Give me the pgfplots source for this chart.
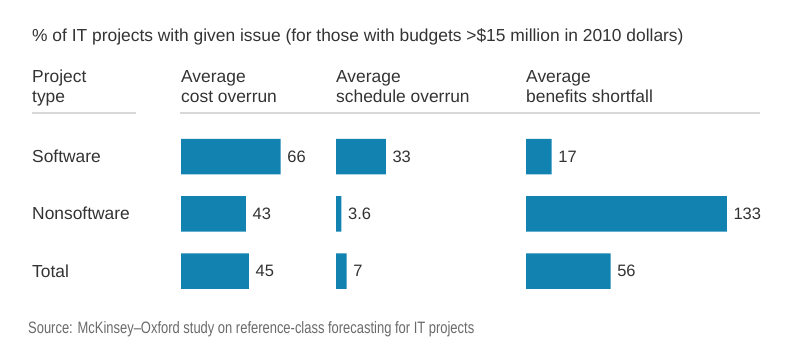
\documentclass[border=0pt]{standalone}
\usepackage{pgfplots}
\pgfplotsset{compat=1.18}
\usepackage{fontspec}
\setmainfont{Liberation Sans}
\newfontfamily\narrowfont{Liberation Sans}[FakeStretch=0.785]
\definecolor{barblue}{HTML}{1283B0}
\definecolor{txt}{HTML}{333333}
\definecolor{src}{HTML}{6A6A6A}
\definecolor{rulec}{HTML}{D8D8D8}
\newcommand{\fs}{\fontsize{17.4}{20}\selectfont}
\newcommand{\fn}{\fontsize{16.5}{20}\selectfont}
\begin{document}
\begin{tikzpicture}[x=1pt,y=1pt]
\path[use as bounding box] (0,0) rectangle (792,359);
\tikzset{t/.style={anchor=base west, font=\fs, text=txt, inner sep=0pt}}
\pgfplotsset{panel/.style={
  hide axis, scale only axis, xmin=0, ymin=-0.5, ymax=2.5, y dir=reverse,
  height=171.75pt, xbar, bar width=35.5pt, clip=false,
  /pgf/number format/assume math mode=true,
  nodes near coords,
  every node near coord/.append style={font=\fn, text=txt, anchor=west, inner sep=0pt, xshift=6.5pt},
  anchor=south west,
}}
% title
\node[t] at (32,{359-42}) {\% of IT projects with given issue (for those with budgets >\$15 million in 2010 dollars)};
% headers
\foreach \x/\a/\b in {32/Project/type, 181/Average/cost overrun, 336/Average/schedule overrun, 526/Average/benefits shortfall}{
  \node[t] at (\x,{359-83}) {\a};
  \node[t] at (\x,{359-103}) {\b};
}
\draw[rulec, line width=2pt] (32,{359-113.5}) -- (136,{359-113.5});
\draw[rulec, line width=2pt] (180,{359-113.5}) -- (760,{359-113.5});
% categories
\node[t] at (32,{359-162.5}) {Software};
\node[t] at (32,{359-219.8}) {Nonsoftware};
\node[t] at (32,{359-277}) {Total};
% panels
\begin{axis}[panel, at={(181pt,{(359-299.75)*1pt})}, xmax=70, width=105.7pt]
\addplot[fill=barblue, draw=none] coordinates {(66,0) (43,1) (45,2)};
\end{axis}
\begin{axis}[panel, at={(336pt,{(359-299.75)*1pt})}, xmax=60, width=90.6pt]
\addplot[fill=barblue, draw=none] coordinates {(33,0) (3.6,1) (7,2)};
\end{axis}
\begin{axis}[panel, at={(526pt,{(359-299.75)*1pt})}, xmax=140, width=211.4pt]
\addplot[fill=barblue, draw=none] coordinates {(17,0) (133,1) (56,2)};
\end{axis}
% source
\node[anchor=base west, inner sep=0pt, font={\narrowfont\fontsize{16.5}{20}\selectfont}, text=src] at (28,{359-333}) {Source: McKinsey–Oxford study on reference-class forecasting for IT projects};
\end{tikzpicture}
\end{document}
